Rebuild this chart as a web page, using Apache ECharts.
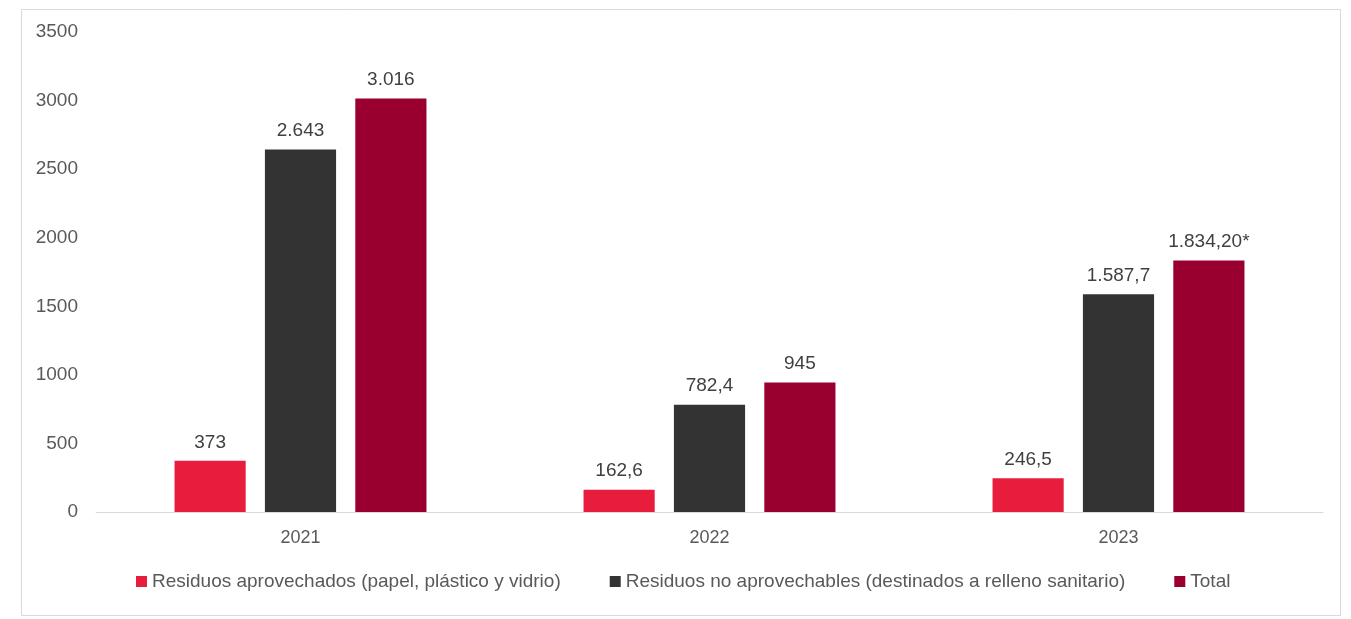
<!DOCTYPE html>
<html>
<head>
<meta charset="utf-8">
<script src="https://cdn.jsdelivr.net/npm/echarts@6/dist/echarts.min.js"></script>
<style>
  html, body { margin: 0; padding: 0; background: #fff; }
  #chart { width: 1351px; height: 619px; }
</style>
</head>
<body>
<div id="chart"></div>
<script>
// datos
var years = ['2021', '2022', '2023'];
var aprovechados = [373, 162.6, 246.5];
var noAprovechables = [2643, 782.4, 1587.7];
var total = [3016, 945, 1834.2];
// etiquetas tal como aparecen (formato es-CO)
var lblAprov = ['373', '162,6', '246,5'];
var lblNoAprov = ['2.643', '782,4', '1.587,7'];
var lblTotal = ['3.016', '945', '1.834,20*'];

var FONT = 'Liberation Sans, Arial, sans-serif';
var chart = echarts.init(document.getElementById('chart'));

function labelFrom(arr) {
    return {
        show: true,
        position: 'top',
        distance: 9,
        color: '#404040',
        fontSize: 19,
        fontFamily: FONT,
        formatter: function (p) { return arr[p.dataIndex]; }
    };
}

chart.setOption({
    animation: false,
    backgroundColor: '#fff',
    graphic: [{
        type: 'rect',
        shape: { x: 21.5, y: 9.5, width: 1319, height: 606 },
        style: { fill: 'none', stroke: '#d9d9d9', lineWidth: 1 },
        z: -1
    }],
    grid: { left: 96, right: 28, top: 32, bottom: 107, containLabel: false },
    legend: {
        bottom: 23,
        left: 131,
        itemWidth: 11,
        itemHeight: 11,
        itemGap: 49,
        icon: 'rect',
        textStyle: {
            color: '#595959',
            fontSize: 19,
            fontFamily: FONT
        },
        data: [
            'Residuos aprovechados (papel, plástico y vidrio)',
            'Residuos no aprovechables (destinados a relleno sanitario)',
            'Total'
        ]
    },
    xAxis: {
        type: 'category',
        data: years,
        axisLine: { lineStyle: { color: '#d9d9d9', width: 1 } },
        axisTick: { show: false },
        axisLabel: {
            color: '#595959',
            fontSize: 18,
            fontFamily: FONT,
            margin: 17
        }
    },
    yAxis: {
        type: 'value',
        min: 0,
        max: 3500,
        interval: 500,
        axisLine: { show: false },
        axisTick: { show: false },
        splitLine: { show: false },
        axisLabel: {
            color: '#595959',
            fontSize: 19,
            fontFamily: FONT,
            margin: 18,
            formatter: function (v) { return String(v); }
        }
    },
    series: [
        {
            name: 'Residuos aprovechados (papel, plástico y vidrio)',
            type: 'bar',
            data: aprovechados,
            barWidth: '17.4%',
            barGap: '27%',
            itemStyle: { color: '#e81c3d' },
            label: labelFrom(lblAprov)
        },
        {
            name: 'Residuos no aprovechables (destinados a relleno sanitario)',
            type: 'bar',
            data: noAprovechables,
            barWidth: '17.4%',
            barGap: '27%',
            itemStyle: { color: '#333333' },
            label: labelFrom(lblNoAprov)
        },
        {
            name: 'Total',
            type: 'bar',
            data: total,
            barWidth: '17.4%',
            barGap: '27%',
            itemStyle: { color: '#990030' },
            label: labelFrom(lblTotal)
        }
    ]
});

window.addEventListener('resize', function () {
    chart && chart.resize();
});
</script>
</body>
</html>
